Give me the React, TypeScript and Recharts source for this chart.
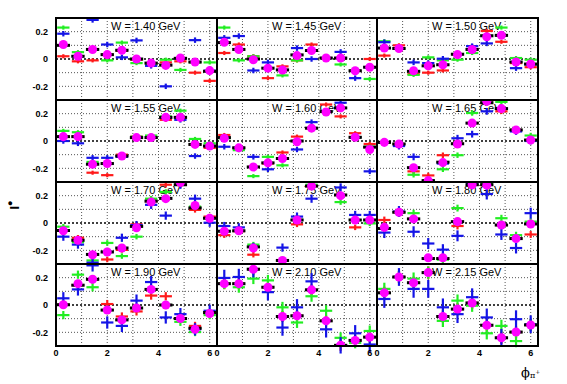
import React from "react";
import { ScatterChart, Scatter, XAxis, YAxis, ErrorBar, ReferenceLine } from "recharts";

// phi_pi+ bin centres (11 bins over 0..2pi)
const phiBins = [0.286, 0.857, 1.428, 2.0, 2.571, 3.142, 3.713, 4.284, 4.855, 5.426, 5.998];
const wLabels = ["1.40", "1.45", "1.50", "1.55", "1.60", "1.65", "1.70", "1.75", "1.80", "1.90", "2.10", "2.15"];
const xTicks = [0, 2, 4, 6];
const yTicks = [-0.2, 0, 0.2];
const gridX = [1, 2, 3, 4, 5, 6];
const gridY = [-0.2, -0.1, 0.1, 0.2];

// vertical errors per panel
const errY = [0.015, 0.015, 0.015, 0.015, 0.015, 0.02, 0.02, 0.02, 0.025, 0.03, 0.04, 0.045];
const errYBlue = [0.02, 0.02, 0.02, 0.02, 0.02, 0.025, 0.03, 0.03, 0.04, 0.045, 0.06, 0.065];

type V = number | null;

const magentaVals: V[][] = [
  [0.106, 0.02, 0.07, 0.032, 0.064, 0.0, -0.03, -0.047, 0.007, -0.022, -0.085],
  [0.123, 0.07, -0.005, -0.067, -0.08, 0.025, 0.062, 0.007, 0.007, -0.086, -0.06],
  [0.08, 0.077, -0.086, -0.05, -0.042, 0.032, 0.07, 0.163, 0.173, -0.022, -0.037],
  [0.032, 0.032, -0.17, -0.165, -0.11, 0.025, 0.025, 0.173, 0.173, -0.025, -0.037],
  [0.02, -0.05, -0.19, -0.16, -0.128, -0.005, 0.094, 0.212, 0.242, 0.027, -0.062],
  [-0.01, -0.022, -0.195, -0.29, -0.158, -0.022, 0.131, 0.29, 0.237, 0.081, 0.007],
  [-0.057, -0.126, -0.232, -0.212, -0.183, -0.035, 0.153, 0.178, 0.296, 0.128, 0.035],
  [-0.06, -0.057, -0.183, null, -0.274, 0.022, 0.27, null, 0.2, 0.022, 0.022],
  [-0.032, 0.079, 0.03, -0.254, -0.254, 0.01, 0.28, 0.277, -0.015, -0.114, -0.007],
  [0.002, 0.156, 0.188, -0.037, -0.109, -0.022, 0.114, 0.0, -0.099, -0.178, -0.062],
  [0.156, 0.156, 0.262, 0.13, -0.084, -0.079, 0.111, -0.116, -0.295, -0.259, -0.235],
  [0.089, 0.205, 0.163, 0.237, -0.084, -0.03, 0.015, -0.148, -0.24, -0.198, -0.146],
];

const blackVals: V[][] = [
  [0.1, 0.02, 0.07, 0.032, 0.064, 0.0, -0.03, -0.045, 0.005, -0.022, -0.09],
  [0.12, 0.07, 0.0, -0.067, -0.08, 0.03, 0.062, 0.007, 0.007, -0.086, -0.06],
  [0.08, 0.077, -0.09, -0.05, -0.042, 0.035, 0.07, 0.17, 0.173, -0.022, -0.037],
  [0.032, 0.032, -0.17, -0.165, -0.11, 0.025, 0.025, 0.173, 0.173, -0.025, -0.037],
  [0.025, -0.05, -0.19, -0.16, -0.128, 0.0, 0.094, 0.215, 0.242, 0.027, -0.045],
  [-0.01, -0.022, -0.195, -0.29, -0.155, -0.02, 0.131, 0.28, 0.237, 0.081, 0.007],
  [-0.055, -0.126, -0.23, -0.212, -0.183, -0.025, 0.16, 0.18, 0.28, 0.11, 0.035],
  [-0.06, -0.057, -0.175, null, -0.274, 0.022, 0.27, null, 0.205, 0.022, 0.022],
  [-0.04, 0.079, 0.03, -0.26, -0.26, 0.01, 0.28, 0.28, -0.015, -0.114, -0.007],
  [0.002, 0.145, 0.188, -0.037, -0.109, -0.022, 0.114, 0.0, -0.099, -0.17, -0.055],
  [0.156, 0.156, 0.262, 0.13, -0.084, -0.079, 0.111, -0.116, -0.295, -0.259, -0.235],
  [0.089, 0.205, 0.163, 0.237, -0.084, -0.03, 0.015, -0.148, -0.24, -0.198, -0.146],
];

const redVals: V[][] = [
  [0.02, -0.017, -0.01, 0.03, 0.06, -0.005, -0.035, -0.025, -0.017, -0.1, -0.16],
  [0.044, 0.106, 0.02, -0.14, -0.054, -0.01, 0.106, 0.007, 0.007, -0.086, 0.0],
  [0.025, 0.1, -0.11, -0.1, -0.084, 0.035, 0.07, 0.205, 0.126, -0.03, -0.06],
  [0.032, 0.032, -0.232, -0.25, -0.1, 0.032, 0.025, 0.155, 0.173, -0.025, -0.05],
  [0.044, -0.05, -0.19, -0.165, -0.084, 0.032, 0.094, 0.267, 0.18, 0.057, -0.022],
  [-0.01, -0.022, -0.222, -0.252, -0.104, -0.02, 0.131, 0.28, 0.217, 0.081, 0.007],
  [-0.055, -0.108, -0.23, -0.267, -0.197, -0.01, 0.16, 0.28, 0.28, 0.096, 0.047],
  [-0.089, -0.06, -0.232, null, -0.274, -0.01, 0.27, null, 0.205, -0.032, 0.022],
  [0.022, 0.079, 0.03, -0.26, -0.26, -0.022, 0.28, 0.28, -0.015, -0.114, -0.084],
  [0.002, 0.145, 0.188, 0.007, -0.084, -0.047, 0.069, 0.064, -0.099, -0.153, -0.062],
  [0.156, 0.156, 0.262, 0.13, -0.084, -0.079, 0.111, -0.116, -0.295, -0.259, -0.235],
  [0.089, 0.205, 0.163, 0.237, -0.084, -0.03, 0.015, -0.148, -0.24, -0.198, -0.146],
];

const greenVals: V[][] = [
  [0.23, 0.05, 0.07, -0.01, 0.12, -0.03, -0.04, -0.005, -0.08, -0.025, -0.025],
  [0.23, -0.01, 0.02, -0.067, -0.12, -0.01, 0.062, 0.007, -0.04, -0.086, -0.146],
  [0.13, 0.077, -0.116, 0.012, -0.01, -0.005, 0.044, 0.17, 0.23, 0.007, -0.005],
  [0.074, 0.064, -0.153, -0.165, -0.11, 0.032, 0.04, 0.18, 0.222, 0.015, -0.017],
  [0.02, -0.067, -0.257, -0.116, -0.178, 0.0, 0.094, 0.215, 0.242, 0.027, -0.042],
  [-0.01, -0.022, -0.247, -0.29, -0.207, -0.104, 0.205, 0.28, 0.286, 0.081, 0.04],
  [-0.027, -0.14, -0.274, -0.146, -0.242, -0.1, 0.178, 0.227, 0.28, 0.12, 0.035],
  [-0.06, -0.057, -0.158, null, -0.274, 0.022, 0.28, null, 0.153, 0.022, -0.003],
  [-0.04, 0.079, 0.072, -0.26, -0.268, 0.109, 0.28, 0.29, 0.035, -0.089, 0.01],
  [-0.074, 0.222, 0.13, -0.037, -0.109, -0.022, 0.114, 0.0, -0.123, -0.198, -0.074],
  [0.156, 0.13, 0.193, 0.18, -0.017, -0.128, 0.064, -0.042, -0.24, -0.277, -0.19],
  [0.118, 0.205, 0.193, 0.237, -0.116, 0.032, -0.005, -0.207, -0.153, -0.264, -0.146],
];

const blueVals: V[][] = [
  [0.185, 0.02, 0.286, 0.106, 0.012, 0.136, -0.05, -0.2, 0.005, 0.138, -0.085],
  [0.155, 0.168, -0.084, -0.025, -0.08, 0.08, 0.0, 0.007, 0.052, -0.14, -0.06],
  [0.123, 0.077, -0.025, -0.03, 0.002, 0.035, 0.094, 0.114, 0.173, -0.067, -0.04],
  [0.0, -0.017, -0.123, -0.123, -0.116, 0.025, 0.025, 0.17, 0.155, -0.11, -0.037],
  [-0.042, -0.05, -0.116, -0.207, -0.128, -0.062, 0.138, 0.215, 0.28, 0.027, -0.222],
  [-0.01, -0.037, -0.116, -0.29, -0.165, 0.02, 0.05, 0.217, 0.237, 0.07, 0.0],
  [-0.1, -0.158, -0.29, -0.212, -0.108, -0.015, 0.133, 0.054, 0.28, 0.178, 0.002],
  [-0.022, -0.032, -0.175, null, -0.18, 0.047, 0.178, null, 0.26, 0.059, 0.059],
  [-0.07, 0.084, -0.064, -0.15, -0.195, -0.094, 0.286, 0.212, -0.084, -0.183, 0.072],
  [0.049, 0.114, 0.29, -0.128, -0.153, 0.032, 0.168, -0.091, -0.067, -0.178, -0.042],
  [0.198, 0.205, 0.262, 0.094, -0.165, -0.017, 0.173, -0.178, -0.295, -0.207, -0.289],
  [0.044, 0.205, 0.118, 0.118, -0.017, -0.067, 0.057, -0.091, -0.24, -0.104, -0.141],
];

const colLeft = [56, 217, 377];
const colW = [161, 160, 161];
const rowTop = [18, 100, 182, 264];
const rowH = 82;
const pad = 6;
const font = "'Liberation Sans', Arial, sans-serif";
const tickStyle = { fontSize: 9, fontWeight: 700, fill: "#000", fontFamily: font };

type Pt = { x: number; y: number; ex: number; ey: number };

function toPoints(vals: V[], ex: number, ey: number): Pt[] {
  const out: Pt[] = [];
  vals.forEach((v, i) => {
    if (v !== null) out.push({ x: phiBins[i], y: v, ex, ey });
  });
  return out;
}

const noShape = () => <g />;

function Panel({ idx }: { idx: number }) {
  const col = idx % 3;
  const row = Math.floor(idx / 3);
  const showY = col === 0;
  const showX = row === 3;
  const yw = showY ? 40 : 0;
  const xh = showX ? 20 : 0;
  const left = colLeft[col];
  const top = rowTop[row];
  const w = colW[col];

  const crosses = [
    { vals: redVals[idx], color: "#ff1a1a", ey: errY[idx] },
    { vals: greenVals[idx], color: "#22ee22", ey: errY[idx] },
    { vals: blueVals[idx], color: "#1414e6", ey: errYBlue[idx] },
  ];

  return (
    <>
      <div
        style={{
          position: "absolute",
          left: left + 55,
          top: top + 2,
          font: `11px ${font}`,
          color: "#000",
          whiteSpace: "nowrap",
        }}
      >
        W = {wLabels[idx]} GeV
      </div>
      <div style={{ position: "absolute", left: left - yw - pad, top }}>
        <ScatterChart
          width={w + yw + 2 * pad}
          height={rowH + xh}
          margin={{ top: 0, right: pad, bottom: 0, left: pad }}
        >
          <XAxis
            type="number"
            dataKey="x"
            domain={[0, 2 * Math.PI]}
            allowDataOverflow
            ticks={xTicks}
            interval={0}
            hide={!showX}
            height={20}
            tickLine={false}
            axisLine={false}
            tickSize={3}
            tickMargin={1}
            tick={tickStyle}
          />
          <YAxis
            type="number"
            dataKey="y"
            domain={[-0.3, 0.3]}
            allowDataOverflow
            ticks={yTicks}
            interval={0}
            hide={!showY}
            width={40}
            tickLine={false}
            axisLine={false}
            tick={tickStyle}
          />
          {gridX.map((g) => (
            <ReferenceLine key={"gx" + g} x={g} stroke="#555" strokeDasharray="1 2" strokeWidth={1} />
          ))}
          {gridY.map((g) => (
            <ReferenceLine key={"gy" + g} y={g} stroke="#555" strokeDasharray="1 2" strokeWidth={1} />
          ))}
          <ReferenceLine y={0} stroke="#000" strokeDasharray="2 2" strokeWidth={1.6} />
          {crosses.map((s, i) => (
            <Scatter
              key={i}
              data={toPoints(s.vals, 0.24, s.ey)}
              shape={noShape}
              isAnimationActive={false}
            >
              <ErrorBar dataKey="ex" direction="x" width={0} stroke={s.color} strokeWidth={2.2} />
              <ErrorBar dataKey="ey" direction="y" width={0} stroke={s.color} strokeWidth={2.2} />
            </Scatter>
          ))}
          <Scatter data={toPoints(blackVals[idx], 0.26, 0.012)} shape={noShape} isAnimationActive={false}>
            <ErrorBar dataKey="ex" direction="x" width={0} stroke="#000" strokeWidth={3} />
            <ErrorBar dataKey="ey" direction="y" width={0} stroke="#000" strokeWidth={2} />
          </Scatter>
          <Scatter
            data={toPoints(magentaVals[idx], 0, 0)}
            fill="#ff00ff"
            shape="circle"
            isAnimationActive={false}
          />
        </ScatterChart>
      </div>
      <div
        style={{
          position: "absolute",
          left: left - 1,
          top: top - 1,
          width: w + 2,
          height: rowH + 2,
          border: "2px solid #000",
          boxSizing: "border-box",
          pointerEvents: "none",
        }}
      />
    </>
  );
}

export default function App() {
  return (
    <div
      style={{
        position: "absolute",
        left: 0,
        top: 0,
        width: 567,
        height: 384,
        background: "#fff",
        overflow: "hidden",
      }}
    >
      {wLabels.map((_, i) => (
        <Panel key={i} idx={i} />
      ))}
      <svg width={567} height={384} style={{ position: "absolute", left: 0, top: 0, pointerEvents: "none" }}>
        <text
          transform="translate(19,205) rotate(-90)"
          textAnchor="middle"
          fontFamily={font}
          fontWeight={700}
          fontSize={13}
          fill="#000"
        >
          I
          <tspan fontSize={9} dy={-6}>●</tspan>
        </text>
        <text x={521} y={377} fontFamily="'DejaVu Serif', 'Liberation Serif', serif" fontSize={13} fill="#000">
          ϕ
          <tspan fontSize={8} dy={1}>π</tspan>
          <tspan fontSize={6} dy={-4}>+</tspan>
        </text>
      </svg>
    </div>
  );
}
